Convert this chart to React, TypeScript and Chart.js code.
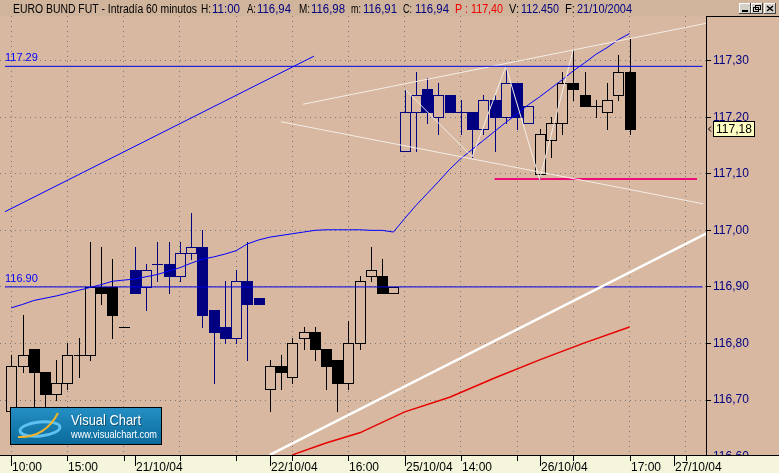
import React, { useEffect, useRef } from 'react';
import { Chart, registerables } from 'chart.js';
Chart.register(...registerables);

// ---------- data (hourly candles, index 0 = 20/10 10:00) ----------
const opens = [116.68, 116.76, 116.79, 116.75, 116.71, 116.73, 116.78, 116.78, 116.90, 116.90, 116.83,
  116.93, 116.90, 116.94, 116.94, 116.92, 116.96, 116.97, 116.86, 116.83, 116.81, 116.91, 116.88,
  116.72, 116.76, 116.74, 116.81, 116.82, 116.79, 116.77, 116.73, 116.80, 116.92, 116.92, 116.89,
  117.14, 117.21, 117.25, 117.20, 117.24, 117.21, 117.21, 117.18, 117.23, 117.20, 117.26, 117.19,
  117.10, 117.16, 117.19, 117.26, 117.24, 117.22, 117.21, 117.24, 117.28];
const highs = [116.78, 116.85, 116.79, 116.75, 116.77, 116.80, 116.81, 116.98, 116.97, 116.95, 116.83,
  116.97, 116.94, 116.98, 116.98, 116.98, 117.03, 117.00, 116.86, 116.91, 116.93, 116.98, 116.88,
  116.77, 116.78, 116.81, 116.83, 116.83, 116.79, 116.77, 116.84, 116.92, 116.97, 116.95, 116.90,
  117.25, 117.28, 117.27, 117.26, 117.24, 117.23, 117.21, 117.24, 117.24, 117.29, 117.26, 117.22,
  117.18, 117.20, 117.28, 117.32, 117.28, 117.23, 117.26, 117.31, 117.34];
const lows = [116.65, 116.75, 116.68, 116.69, 116.70, 116.72, 116.74, 116.77, 116.87, 116.81, 116.83,
  116.89, 116.86, 116.91, 116.89, 116.91, 116.95, 116.83, 116.73, 116.80, 116.80, 116.77, 116.87,
  116.68, 116.72, 116.73, 116.79, 116.77, 116.72, 116.68, 116.72, 116.79, 116.91, 116.89, 116.89,
  117.14, 117.14, 117.19, 117.17, 117.21, 117.17, 117.13, 117.17, 117.14, 117.19, 117.18, 117.19,
  117.09, 117.13, 117.17, 117.23, 117.22, 117.20, 117.18, 117.23, 117.17];
const closes = [116.76, 116.78, 116.75, 116.71, 116.73, 116.78, 116.78, 116.90, 116.89, 116.85, 116.83,
  116.89, 116.93, 116.94, 116.92, 116.96, 116.97, 116.85, 116.82, 116.81, 116.91, 116.87, 116.87,
  116.76, 116.75, 116.80, 116.82, 116.79, 116.76, 116.73, 116.80, 116.91, 116.93, 116.89, 116.90,
  117.21, 117.24, 117.21, 117.24, 117.21, 117.21, 117.18, 117.23, 117.20, 117.26, 117.20, 117.22,
  117.17, 117.19, 117.26, 117.25, 117.22, 117.22, 117.23, 117.28, 117.18];

const maValues = [116.863, 116.869, 116.876, 116.880, 116.884, 116.889, 116.894, 116.899, 116.904, 116.910,
  116.912, 116.914, 116.918, 116.922, 116.928, 116.934, 116.942, 116.949, 116.953, 116.958, 116.964,
  116.976, 116.983, 116.988, 116.991, 116.994, 116.997, 117.000, 117.001, 117.001, 117.001, 117.001,
  117.000, 117.000, 116.997, 117.021, 117.044, 117.065, 117.086, 117.108, 117.127, 117.143, 117.159,
  117.175, 117.191, 117.206, 117.222, 117.236, 117.251, 117.266, 117.282, 117.296, 117.311, 117.323,
  117.337, 117.348];

const redIdx = [25, 28, 31, 35, 39, 43, 47, 51, 55];
const redVals = [116.603, 116.624, 116.642, 116.679, 116.705, 116.739, 116.771, 116.801, 116.829];

const zigIdx = [35, 41, 44, 47, 50];
const zigVals = [117.25, 117.13, 117.29, 117.09, 117.32];

const thickIdx = [23, 62];
const thickVals = [116.603, 116.996];
const upperIdx = [25.95, 61.8];
const upperVals = [117.223, 117.366];
const lowerIdx = [24.0, 61.54];
const lowerVals = [117.192, 117.047];
const magentaIdx = [43.0, 61.0];
const magentaVals = [117.091, 117.091];
const blueTrendIdx = [-0.56, 26.93];
const blueTrendVals = [117.033, 117.308];
const levelIdx = [-0.56, 61.5];
const levelValues = [117.29, 116.9];
const levelLabels = ['117.29', '116.90'];

const dayStarts = [0, 11, 23, 35, 47, 59];
const gridIdx = [0, 5, 10, 15, 20, 25, 30, 35, 40, 45, 50, 55, 60];
const xLabelIdx = [0, 5, 11, 23, 30, 35, 40, 47, 55, 59];
const xLabels = ['10:00', '15:00', '21/10/04', '22/10/04', '16:00', '25/10/04', '14:00', '26/10/04', '17:00', '27/10/04'];
const yTicks = [116.6, 116.7, 116.8, 116.9, 117.0, 117.1, 117.2, 117.3];
const lastPrice = 117.18;

const headerParts = [
  'EURO BUND FUT - Intradía 60 minutos', 'H:', '11:00', 'A:', '116,94', 'M:', '116,98', 'm:', '116,91',
  'C:', '116,94', 'P : 117,40', 'V:', '112.450', 'F:', '21/10/2004'];

// ---------- styles ----------
const BG = '#D8B8A0';
const HEADER_BG = '#D0B49C';
const BAND_BG = '#F5F5DC';
const GRID = '#7a7a7a';
const NAVY = '#000080';
const dayColors = ['#000000', '#000080', '#000000', '#000080', '#000000', '#000080'];
const headerColors = ['#000', '#000', NAVY, '#000', NAVY, '#000', NAVY, '#000', NAVY, '#000', NAVY, '#F00000', '#000', NAVY, '#000', NAVY];
const headerX = [13, 201, 212, 247, 257, 299, 311, 351, 363, 403, 415, 455, 509, 521, 565, 577];
const headerW = [184, 10, 28, 9, 34, 11, 34, 10, 34, 9, 34, 48, 10, 38, 10, 55];
const FONT = "'Liberation Sans', Arial, sans-serif";

function dayColor(i: number) {
  let d = 0;
  for (let k = 0; k < dayStarts.length; k++) if (i >= dayStarts[k]) d = k;
  return dayColors[d];
}

const pts = (xs: number[], ys: number[]) => xs.map((x, k) => ({ x, y: ys[k] }));

const candlePlugin = {
  id: 'candles',
  beforeDatasetsDraw(chart: any) {
    const { ctx, chartArea: ca } = chart;
    const x = chart.scales.x, y = chart.scales.y;
    const half = Math.round((x.getPixelForValue(1) - x.getPixelForValue(0)) * 0.45);
    ctx.save();
    ctx.beginPath();
    ctx.rect(ca.left, ca.top, ca.right - ca.left, ca.bottom - ca.top);
    ctx.clip();
    ctx.lineWidth = 1;
    for (let i = 0; i < opens.length; i++) {
      const col = dayColor(i);
      const cx = Math.round(x.getPixelForValue(i));
      const yo = Math.round(y.getPixelForValue(opens[i]));
      const yc = Math.round(y.getPixelForValue(closes[i]));
      const yh = Math.round(y.getPixelForValue(highs[i]));
      const yl = Math.round(y.getPixelForValue(lows[i]));
      ctx.fillStyle = col;
      ctx.fillRect(cx, yh, 1, yl - yh + 1);
      const top = Math.min(yo, yc), bot = Math.max(yo, yc);
      if (closes[i] < opens[i]) {
        ctx.fillRect(cx - half, top, 2 * half + 1, bot - top + 1);
      } else if (closes[i] === opens[i]) {
        ctx.fillRect(cx - half, top, 2 * half + 1, 1);
      } else {
        ctx.fillStyle = BG;
        ctx.fillRect(cx - half, top, 2 * half + 1, bot - top + 1);
        ctx.strokeStyle = col;
        ctx.strokeRect(cx - half + 0.5, top + 0.5, 2 * half, bot - top);
      }
    }
    ctx.restore();
  },
};

const decorPlugin = {
  id: 'decor',
  beforeDraw(chart: any) {
    const { ctx, width, height } = chart;
    ctx.save();
    ctx.fillStyle = BG;
    ctx.fillRect(0, 0, width, height);
    ctx.fillStyle = HEADER_BG;
    ctx.fillRect(0, 0, width, 16);
    ctx.restore();
  },
  afterDraw(chart: any) {
    const { ctx, width, height, chartArea: ca } = chart;
    const x = chart.scales.x, y = chart.scales.y;
    ctx.save();
    // level labels
    ctx.font = `11px ${FONT}`;
    ctx.fillStyle = '#0000FF';
    ctx.textBaseline = 'alphabetic';
    ctx.textAlign = 'left';
    levelValues.forEach((v, k) => {
      ctx.fillText(levelLabels[k], x.getPixelForValue(levelIdx[0]), Math.round(y.getPixelForValue(v)) - 5);
    });
    // bottom band
    const bTop = Math.round(ca.bottom);
    ctx.fillStyle = BAND_BG;
    ctx.fillRect(0, bTop, width, height - bTop);
    ctx.fillStyle = '#000';
    ctx.fillRect(0, bTop, width, 1);
    gridIdx.forEach((g) => {
      const px = Math.round(x.getPixelForValue(g));
      if (px < ca.right) ctx.fillRect(px, bTop, 1, 6);
    });
    dayStarts.forEach((g) => {
      const px = Math.round(x.getPixelForValue(g));
      ctx.fillRect(px, bTop, 1, 11);
    });
    ctx.font = `12px ${FONT}`;
    ctx.fillStyle = '#000';
    xLabelIdx.forEach((g, k) => {
      ctx.fillText(xLabels[k], Math.round(x.getPixelForValue(g)) + 1, 471);
    });
    // right axis box top
    ctx.fillRect(Math.round(ca.right), 16, width - ca.right, 1);
    // last price box
    const py = Math.round(y.getPixelForValue(lastPrice));
    ctx.fillStyle = '#FFFFC4';
    ctx.fillRect(713, py - 8, 42, 16);
    ctx.strokeStyle = '#000';
    ctx.lineWidth = 1;
    ctx.strokeRect(713.5, py - 7.5, 41, 15);
    ctx.fillStyle = '#000';
    ctx.font = `12px ${FONT}`;
    ctx.textBaseline = 'middle';
    ctx.fillText(lastPrice.toFixed(2).replace('.', ','), 716, py + 0.5);
    ctx.beginPath();
    ctx.moveTo(711, py - 2.5);
    ctx.lineTo(708.5, py);
    ctx.lineTo(711, py + 2.5);
    ctx.stroke();
    // header
    ctx.textBaseline = 'alphabetic';
    ctx.font = `12px ${FONT}`;
    headerParts.forEach((t, k) => {
      ctx.fillStyle = headerColors[k];
      ctx.fillText(t, headerX[k], 13, headerW[k]);
    });
    // window buttons
    const bx = [739, 751, 764];
    bx.forEach((b, k) => {
      ctx.fillStyle = '#D4D0C8';
      ctx.fillRect(b, 3, 12, 11);
      ctx.fillStyle = '#FFF';
      ctx.fillRect(b, 3, 12, 1);
      ctx.fillRect(b, 3, 1, 11);
      ctx.fillStyle = '#404040';
      ctx.fillRect(b, 13, 12, 1);
      ctx.fillRect(b + 11, 3, 1, 11);
      ctx.fillStyle = '#000';
      if (k === 0) ctx.fillRect(b + 3, 10, 6, 2);
      if (k === 1) {
        ctx.strokeStyle = '#000';
        ctx.strokeRect(b + 2.5, 7.5, 5, 4);
        ctx.strokeRect(b + 4.5, 5.5, 5, 4);
      }
      if (k === 2) {
        ctx.strokeStyle = '#000';
        ctx.lineWidth = 1.5;
        ctx.beginPath();
        ctx.moveTo(b + 3, 6); ctx.lineTo(b + 9, 11);
        ctx.moveTo(b + 9, 6); ctx.lineTo(b + 3, 11);
        ctx.stroke();
        ctx.lineWidth = 1;
      }
    });
    // logo
    const g = ctx.createLinearGradient(0, 407, 0, 444);
    g.addColorStop(0, '#2590C4');
    g.addColorStop(1, '#0B6A9C');
    ctx.fillStyle = g;
    ctx.fillRect(10, 407, 152, 38);
    ctx.strokeStyle = '#000';
    ctx.lineWidth = 1;
    ctx.strokeRect(10.5, 407.5, 151, 37);
    ctx.beginPath();
    ctx.ellipse(40, 429, 20, 7, -0.1, 0, Math.PI * 2);
    ctx.strokeStyle = '#5EC2F0';
    ctx.lineWidth = 3;
    ctx.stroke();
    ctx.beginPath();
    ctx.moveTo(18, 437);
    ctx.quadraticCurveTo(45, 438, 58, 413);
    ctx.strokeStyle = '#F2B428';
    ctx.lineWidth = 2;
    ctx.stroke();
    ctx.fillStyle = 'rgba(0,0,0,0.35)';
    ctx.font = `15px ${FONT}`;
    ctx.fillText('Visual Chart', 72, 426, 70);
    ctx.fillStyle = '#FFFFFF';
    ctx.fillText('Visual Chart', 71, 425, 70);
    ctx.font = `11px ${FONT}`;
    ctx.fillText('www.visualchart.com', 71, 438, 86);
    ctx.restore();
  },
};

const lineDs = (data: any[], color: string, w: number) => ({
  type: 'line' as const,
  data,
  borderColor: color,
  borderWidth: w,
  pointRadius: 0,
  tension: 0,
  fill: false,
});

export default function App() {
  const ref = useRef<HTMLCanvasElement>(null);
  useEffect(() => {
    const canvas = ref.current!;
    const chart = new Chart(canvas, {
      type: 'line',
      data: {
        datasets: [
          lineDs(pts(thickIdx, thickVals), '#FFFFFF', 2.5),
          lineDs(pts(redIdx, redVals), '#E80000', 1.5),
          lineDs(pts(levelIdx, [levelValues[0], levelValues[0]]), '#0000E8', 1),
          lineDs(pts(levelIdx, [levelValues[1], levelValues[1]]), '#0000E8', 1),
          lineDs(pts(blueTrendIdx, blueTrendVals), '#0000FF', 1),
          lineDs(pts(upperIdx, upperVals), '#F4EEE8', 1),
          lineDs(pts(lowerIdx, lowerVals), '#F4EEE8', 1),
          lineDs(pts(zigIdx, zigVals), '#F4EEE8', 1),
          lineDs(pts(magentaIdx, magentaVals), '#EE0A78', 2),
          lineDs(maValues.map((v, i) => ({ x: i, y: v })), '#0000FF', 1),
        ],
      },
      options: {
        responsive: false,
        devicePixelRatio: 1,
        animation: false,
        events: [],
        layout: { padding: { top: 16, left: 0, right: 0, bottom: 0 } },
        plugins: { legend: { display: false }, tooltip: { enabled: false } },
        scales: {
          x: {
            type: 'linear',
            min: -1.005,
            max: 61.806,
            afterBuildTicks: (s: any) => { s.ticks = gridIdx.map((v) => ({ value: v })); },
            afterFit: (s: any) => { s.height = 18; },
            ticks: { display: false },
            grid: { color: GRID, lineWidth: 1, drawTicks: false },
            border: { display: true, color: '#000', width: 1, dash: [1, 4] },
          },
          y: {
            type: 'linear',
            position: 'right',
            min: 116.6028,
            max: 117.379,
            afterBuildTicks: (s: any) => { s.ticks = yTicks.map((v) => ({ value: v })); },
            afterFit: (s: any) => { s.width = 73; },
            ticks: {
              autoSkip: false,
              color: NAVY,
              padding: 2,
              font: { family: FONT, size: 12 },
              callback: (v: any) => Number(v).toFixed(2).replace('.', ','),
            },
            grid: { color: GRID, lineWidth: 1, drawTicks: true, tickLength: 5, tickColor: '#000', tickBorderDash: [] },
            border: { display: true, color: '#000', width: 1, dash: [1, 4] },
          },
        },
      } as any,
      plugins: [decorPlugin, candlePlugin],
    });
    return () => chart.destroy();
  }, []);
  return (
    <div style={{ position: 'absolute', left: 0, top: 0, width: 779, height: 473 }}>
      <canvas ref={ref} width={779} height={473} style={{ display: 'block', width: 779, height: 473 }} />
    </div>
  );
}
